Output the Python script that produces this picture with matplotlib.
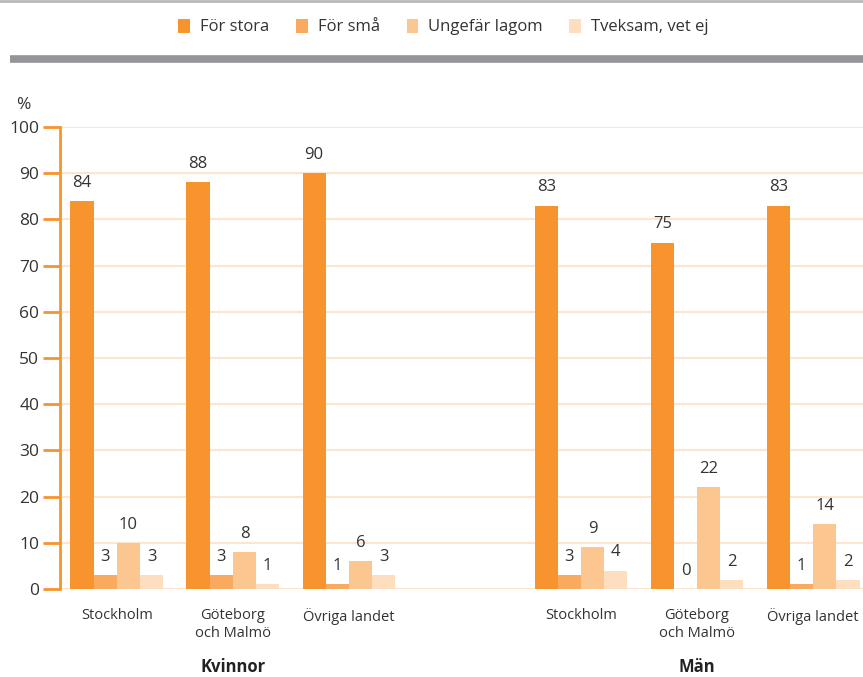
import matplotlib.pyplot as plt
import numpy as np
from matplotlib.patches import Patch

plt.rcParams['font.family'] = ['Open Sans', 'DejaVu Sans']

regions = ['Stockholm', 'Göteborg\noch Malmö', 'Övriga landet',
           'Stockholm', 'Göteborg\noch Malmö', 'Övriga landet']
groups = ['Kvinnor', 'Män']
series = ['För stora', 'För små', 'Ungefär lagom', 'Tveksam, vet ej']
for_stora = [84, 88, 90, 83, 75, 83]
for_sma = [3, 3, 1, 3, 0, 1]
lagom = [10, 8, 6, 9, 22, 14]
tveksam = [3, 1, 3, 4, 2, 2]
values = [for_stora, for_sma, lagom, tveksam]
colors = ['#F7942E', '#F9AA5F', '#FBC68F', '#FDDFBF']

pos = np.array([0, 1, 2, 4, 5, 6])
w = 0.2

fig = plt.figure(figsize=(8.63, 6.77), dpi=100)
ax = fig.add_axes([60 / 863, 1 - 589 / 677, 1 - 60 / 863, (589 - 127) / 677])

for i, (vals, c) in enumerate(zip(values, colors)):
    x = pos + (i - 1.5) * w
    ax.bar(x, vals, width=w, color=c, zorder=3)
    for xi, v in zip(x, vals):
        ax.text(xi, v + 2.2, str(v), ha='center', va='bottom',
                fontsize=12, color='#333333')

ax.set_ylim(0, 100)
ax.set_xlim(-0.49, 6.43)
ax.set_yticks(range(0, 101, 10))
ax.yaxis.grid(True, color='#FDE6D0', linewidth=1.5, zorder=0)
ax.tick_params(axis='y', length=12, width=2, color='#F7942E',
               labelsize=12.5, labelcolor='#333333', pad=3)
ax.set_xticks(pos)
ax.set_xticklabels(regions, fontsize=10.5, color='#333333', linespacing=1.25)
ax.tick_params(axis='x', length=0, pad=14)
for s in ['top', 'right', 'bottom']:
    ax.spines[s].set_visible(False)
ax.spines['left'].set_color('#F7942E')
ax.spines['left'].set_linewidth(2)

ax.text(-0.037, 1.03, '%', transform=ax.transAxes, ha='right', va='bottom',
        fontsize=12.5, color='#333333')

for g, p in zip(groups, [1, 5]):
    fig.text((117 + 116 * p) / 863, 1 - 667 / 677, g, ha='center', va='center',
             fontsize=12, fontweight='bold', color='#222222')

# header lines
fig.add_artist(plt.Line2D([0, 1], [1 - 1 / 677, 1 - 1 / 677],
                          color='#B8B9BB', linewidth=2))
fig.add_artist(plt.Line2D([10 / 863, 1], [1 - 58.5 / 677, 1 - 58.5 / 677],
                          color='#939598', linewidth=5.5, solid_capstyle='butt'))

handles = [Patch(facecolor=c, edgecolor='none') for c in colors]
fig.legend(handles, series, loc='center', bbox_to_anchor=(0.514, 1 - 27 / 677),
           ncol=4, frameon=False, fontsize=12, handlelength=0.7,
           handleheight=0.9, handletextpad=0.6, columnspacing=1.6,
           labelcolor='#333333')

fig.savefig('out.png', dpi=100)
